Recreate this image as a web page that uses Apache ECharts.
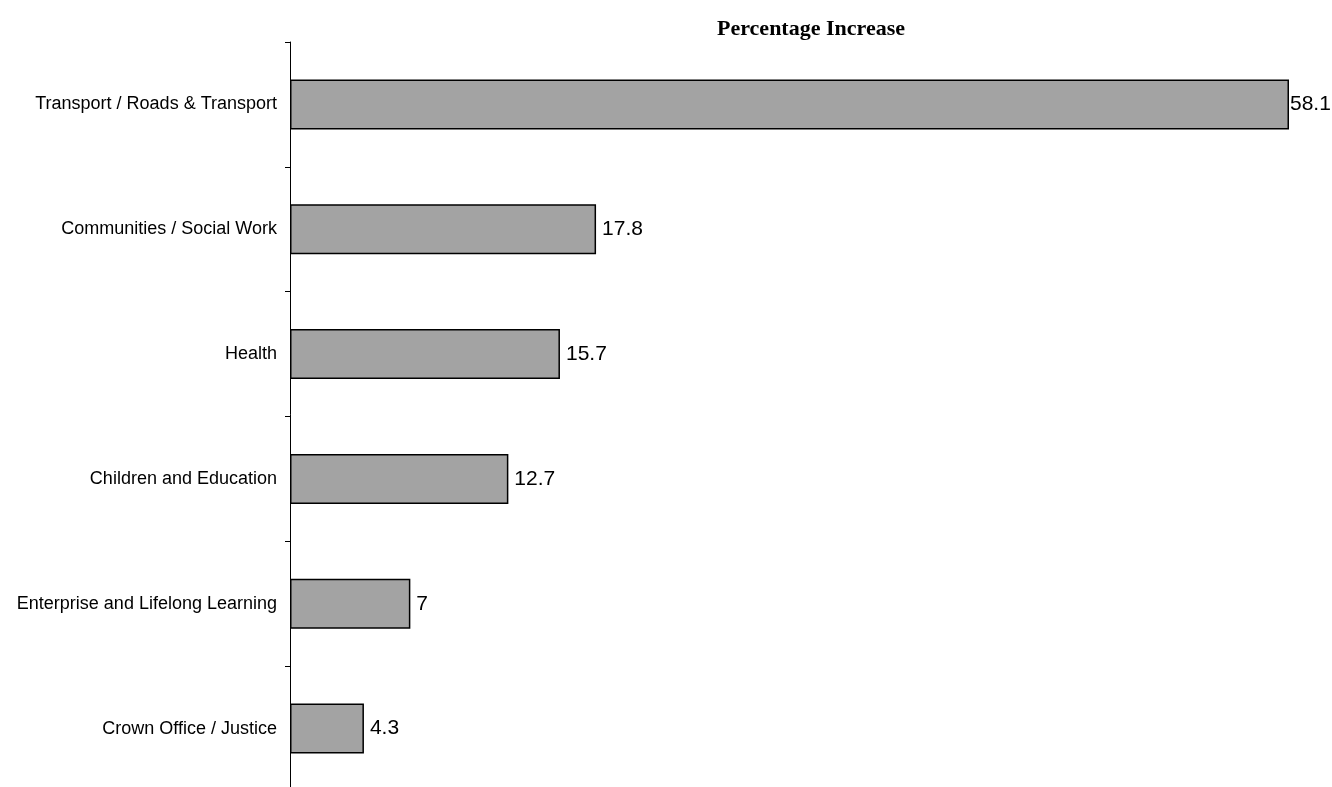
<!DOCTYPE html>
<html>
<head>
<meta charset="utf-8">
<title>Percentage Increase</title>
<script src="https://cdn.jsdelivr.net/npm/echarts@6/dist/echarts.min.js"></script>
<style>
  html, body { margin: 0; padding: 0; background: #ffffff; }
  #chart { width: 1332px; height: 787px; }
</style>
</head>
<body>
<div id="chart"></div>
<script>
// Portfolio categories, top to bottom
const categories = [
  'Transport / Roads & Transport',
  'Communities / Social Work',
  'Health',
  'Children and Education',
  'Enterprise and Lifelong Learning',
  'Crown Office / Justice'
];

// Percentage increase for each category
const increases = [58.1, 17.8, 15.7, 12.7, 7, 4.3];

const chart = echarts.init(document.getElementById('chart'), null, { renderer: 'canvas' });

// The widest bar's label sits tight against its bar so it stays inside the canvas
const barData = increases.map((v, i) => ({
  value: v,
  label: i === 0 ? { distance: 1 } : undefined
}));

chart.setOption({
  animation: false,
  backgroundColor: '#ffffff',
  title: {
    text: 'Percentage Increase',
    left: 806,
    top: 13,
    textAlign: 'center',
    textStyle: {
      fontFamily: '"Liberation Serif", "Times New Roman", serif',
      fontWeight: 'bold',
      fontSize: 22,
      color: '#000000'
    }
  },
  grid: {
    left: 290,
    top: 42,
    width: 999,
    height: 749,
    containLabel: false,
    outerBoundsMode: 'none'
  },
  xAxis: {
    type: 'value',
    min: 0,
    max: 58.1,
    show: false
  },
  yAxis: {
    type: 'category',
    data: categories,
    inverse: true,
    axisLine: { show: true, lineStyle: { color: '#000000', width: 1 } },
    axisTick: { show: true, length: 5, lineStyle: { color: '#000000', width: 1 } },
    axisLabel: {
      margin: 13,
      color: '#000000',
      fontSize: 18,
      fontFamily: '"Liberation Sans", Arial, sans-serif'
    },
    splitLine: { show: false }
  },
  series: [{
    type: 'bar',
    data: barData,
    barWidth: 50,
    itemStyle: {
      color: '#a3a3a3',
      borderColor: '#000000',
      borderWidth: 1.5
    },
    label: {
      show: true,
      position: 'right',
      distance: 6,
      color: '#000000',
      fontSize: 21,
      fontFamily: '"Liberation Sans", Arial, sans-serif'
    }
  }]
});
</script>
</body>
</html>
